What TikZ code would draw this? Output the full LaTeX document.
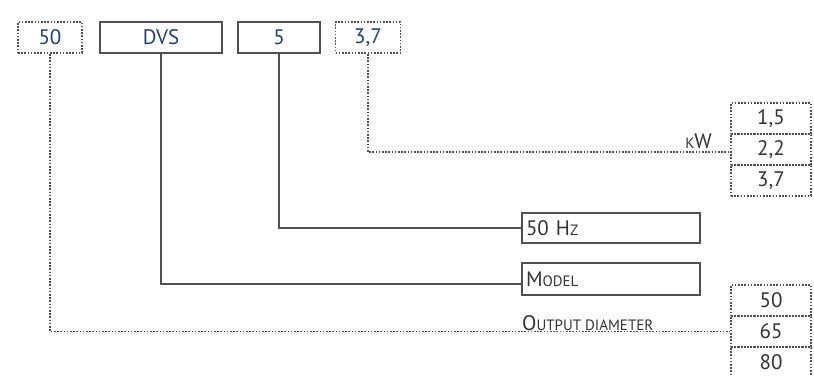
\documentclass[tikz,border=0pt]{standalone}
\usepackage{fontspec}
\setmainfont{PT Sans}
\definecolor{navy}{HTML}{24406B}
\definecolor{txt}{HTML}{333333}
\definecolor{ln}{HTML}{505050}
\newcommand\fsc[1]{{\fontsize{15}{15}\selectfont #1}}
\tikzset{
  solidbox/.style={draw=ln, line width=1.5pt, inner sep=0pt, font=\fontsize{21}{21}\selectfont},
  dotbox/.style={draw=ln, line width=1.8pt, dash pattern=on 1.6pt off 1.6pt, inner sep=0pt, font=\fontsize{21}{21}\selectfont},
  topbox/.style={minimum height=31pt, text=navy},
  cellbox/.style={dotbox, minimum width=80pt, minimum height=31pt, text=txt},
  longbox/.style={solidbox, minimum width=178pt, text=txt, align=left, text width=170pt},
  solidline/.style={draw=ln, line width=1.5pt},
  dotline/.style={draw=ln, line width=1.8pt, dash pattern=on 1.6pt off 1.6pt},
  lbl/.style={text=txt, font=\fontsize{21}{21}\selectfont, inner sep=0pt}
}
\begin{document}
\begin{tikzpicture}[x=1pt,y=-1pt]
\useasboundingbox (0,0) rectangle (814,375);
% top code boxes
\node[dotbox,topbox,minimum width=64pt] (t50) at (50,37.5) {50};
\node[solidbox,topbox,minimum width=122pt] (tdvs) at (161,37.5) {DVS};
\node[solidbox,topbox,minimum width=82pt] (t5) at (279,37.5) {5};
\node[dotbox,topbox,minimum width=65pt] (t37) at (368,37.5) {3,7};
% kW column
\node[cellbox] (kw1) at (771,118.5) {1,5};
\node[cellbox] (kw2) at (771,149.5) {2,2};
\node[cellbox] (kw3) at (771,180.5) {3,7};
\node[lbl,anchor=east] (kwl) at (712,141) {\fsc{K}W};
% frequency and model boxes
\node[longbox,minimum height=30pt] (hz) at (611,228) {50 H\fsc{Z}};
\node[longbox,minimum height=32pt] (model) at (611,279) {M\fsc{ODEL}};
% output diameter column
\node[cellbox] (od1) at (771,300.5) {50};
\node[cellbox] (od2) at (771,331.5) {65};
\node[cellbox] (od3) at (771,362.5) {80};
\node[lbl,anchor=west] (odl) at (522,323) {O\fsc{UTPUT DIAMETER}};
% connectors
\draw[dotline] (t37.south) |- ([yshift=-2.5pt]kw2.west);
\draw[solidline] (t5.south) |- (hz.west);
\draw[solidline] (tdvs.south) |- ([yshift=-5pt]model.west);
\draw[dotline] (t50.south) |- (od2.west);
\end{tikzpicture}
\end{document}
